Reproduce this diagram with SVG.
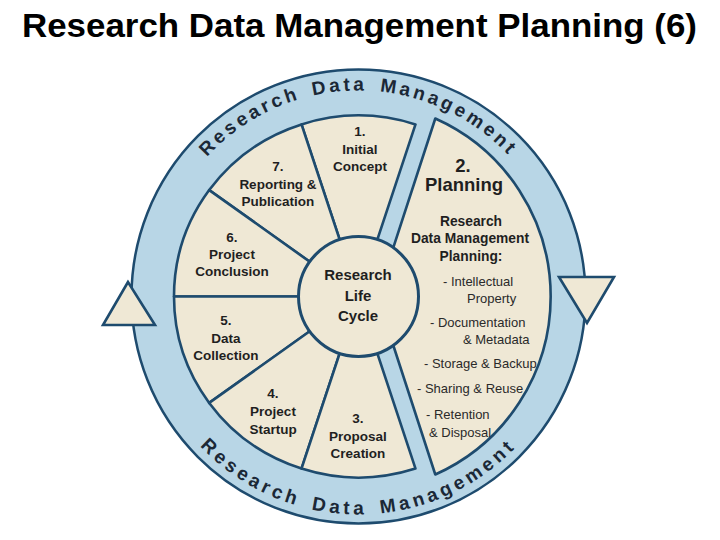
<svg xmlns="http://www.w3.org/2000/svg" width="720" height="540" viewBox="0 0 720 540">
<style>
.ringfill{fill:#b8d6e6;stroke:#1e4b6e;stroke-width:2.5}
.wedge{fill:#efe8d5;stroke:#1e4b6e;stroke-width:2.6;stroke-linejoin:round}
.tri{fill:#efe8d5;stroke:#1e4b6e;stroke-width:2.6;stroke-linejoin:miter}
.lbl{font-family:"Liberation Sans",Arial,sans-serif;font-weight:bold;font-size:13.5px;fill:#1f1f1f;text-anchor:middle}
.big{font-size:18.5px}
.ctr{font-size:15px}
.sub{font-size:13.8px}
.item{font-family:"Liberation Sans",Arial,sans-serif;font-size:13px;fill:#2a2a2a}
.ring{font-family:"Liberation Sans",Arial,sans-serif;font-weight:bold;font-size:19px;fill:#1b2836;text-anchor:middle;word-spacing:4px}
.title{font-family:"Liberation Sans",Arial,sans-serif;font-weight:bold;font-size:33px;fill:#000}
</style>
<defs>
<path id="topArc" d="M 152.5 296.5 A 206 206 0 0 1 564.5 296.5"/>
<path id="botArc" d="M 140.5 296.5 A 218 218 0 0 0 576.5 296.5"/>
</defs>

<text class="title" x="22" y="37" textLength="675" lengthAdjust="spacingAndGlyphs">Research Data Management Planning (6)</text>

<g id="ring">
<circle class="ringfill" cx="358.5" cy="296.5" r="227"/>
<text class="ring" style="letter-spacing:3.3px"><textPath href="#topArc" startOffset="50%">Research Data Management</textPath></text>
<text class="ring" style="letter-spacing:3.9px"><textPath href="#botArc" startOffset="50%">Research Data Management</textPath></text>
</g>

<g id="wedge1">
<path class="wedge" d="M 358.5 296.5 L 301.5 124.4 A 184.5 181 0 0 1 415.5 124.4 Z"/>
<text class="lbl" x="360" y="136">1.</text>
<text class="lbl" x="360" y="154">Initial</text>
<text class="lbl" x="360" y="171">Concept</text>
</g>

<g id="wedge7">
<path class="wedge" d="M 358.5 296.5 L 209.2 190.1 A 184.5 181 0 0 1 301.5 124.4 Z"/>
<text class="lbl" x="278" y="171">7.</text>
<text class="lbl" x="278" y="189">Reporting &amp;</text>
<text class="lbl" x="278" y="206">Publication</text>
</g>

<g id="wedge6">
<path class="wedge" d="M 358.5 296.5 L 174 296.5 A 184.5 181 0 0 1 209.2 190.1 Z"/>
<text class="lbl" x="232" y="242">6.</text>
<text class="lbl" x="232" y="259">Project</text>
<text class="lbl" x="232" y="276">Conclusion</text>
</g>

<g id="wedge5">
<path class="wedge" d="M 358.5 296.5 L 209.2 402.9 A 184.5 181 0 0 1 174 296.5 Z"/>
<text class="lbl" x="226" y="325">5.</text>
<text class="lbl" x="226" y="343">Data</text>
<text class="lbl" x="226" y="360">Collection</text>
</g>

<g id="wedge4">
<path class="wedge" d="M 358.5 296.5 L 301.5 468.6 A 184.5 181 0 0 1 209.2 402.9 Z"/>
<text class="lbl" x="273" y="398">4.</text>
<text class="lbl" x="273" y="416">Project</text>
<text class="lbl" x="273" y="434">Startup</text>
</g>

<g id="wedge3">
<path class="wedge" d="M 358.5 296.5 L 415.5 468.6 A 184.5 181 0 0 1 301.5 468.6 Z"/>
<text class="lbl" x="358" y="423">3.</text>
<text class="lbl" x="358" y="441">Proposal</text>
<text class="lbl" x="358" y="458">Creation</text>
</g>

<g id="wedge2">
<path class="wedge" d="M 377.4 296.5 L 435.3 118.5 A 195 195 0 0 1 435.3 474.5 Z"/>
<text class="lbl big" x="463" y="172">2.</text>
<text class="lbl big" x="464" y="191">Planning</text>
<text class="lbl sub" x="471" y="226">Research</text>
<text class="lbl sub" x="470" y="243">Data Management</text>
<text class="lbl sub" x="471" y="261">Planning:</text>
<text class="item" x="443" y="286">- Intellectual</text>
<text class="item" x="467" y="303">Property</text>
<text class="item" x="430" y="327">- Documentation</text>
<text class="item" x="463" y="344">&amp; Metadata</text>
<text class="item" x="424" y="368">- Storage &amp; Backup</text>
<text class="item" x="417" y="393">- Sharing &amp; Reuse</text>
<text class="item" x="426" y="419">- Retention</text>
<text class="item" x="429" y="437">&amp; Disposal</text>
</g>

<g id="center">
<circle class="wedge" cx="358.5" cy="296.5" r="60" style="stroke-width:3"/>
<text class="lbl ctr" x="358" y="280">Research</text>
<text class="lbl ctr" x="358" y="301">Life</text>
<text class="lbl ctr" x="358" y="321">Cycle</text>
</g>

<g id="connectors">
<polygon class="tri" points="128,282 103,325 155,325"/>
<polygon class="tri" points="559,277 614,277 587,323"/>
</g>
</svg>
